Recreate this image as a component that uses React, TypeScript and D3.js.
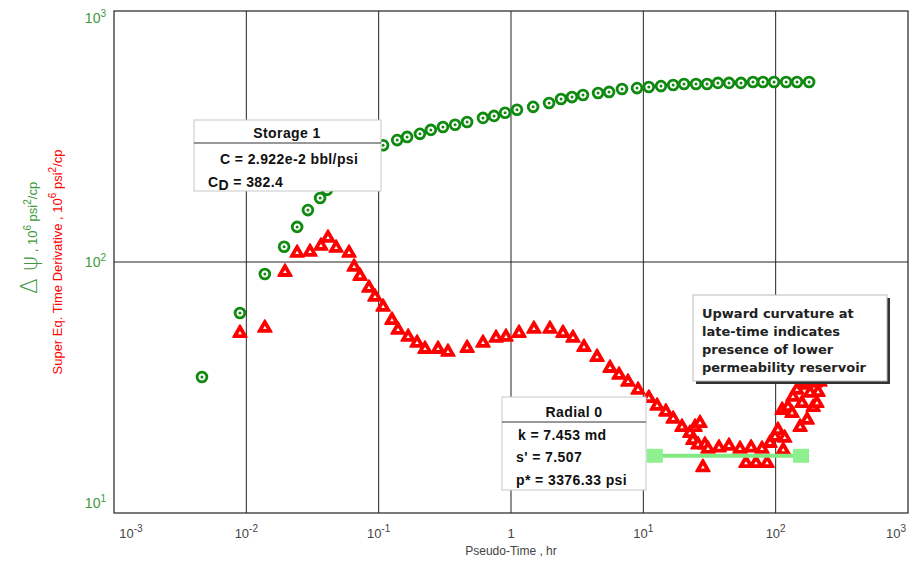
import React from 'react';
import * as d3 from 'd3';

// pressure change (green) : pseudo-time hr, 10^6 psi2/cp
const deltaTime = [
  0.00462, 0.00895, 0.0138, 0.0193, 0.0242, 0.0292, 0.0361, 0.0407, 0.0493, 0.0597,
  0.0723, 0.0875, 0.108, 0.138, 0.164, 0.205, 0.248, 0.306, 0.378, 0.466, 0.614,
  0.745, 0.902, 1.11, 1.47, 1.94, 2.39, 2.89, 3.5, 4.55, 5.51, 6.9, 8.96, 11.0,
  13.6, 16.8, 20.3, 25.0, 30.3, 36.6, 44.4, 54.7, 67.4, 80.2, 97.2, 120, 145, 179,
];
const deltaPsi = [
  34.8, 62.6, 89.6, 115, 138, 161, 180, 194, 210, 228, 248, 269, 292, 306, 315,
  324, 336, 345, 352, 361, 375, 382, 393, 404, 415, 430, 446, 454, 463, 471, 476,
  489, 493, 498, 502, 507, 512, 512, 512, 517, 517, 517, 521, 521, 521, 521, 521, 521,
];

// derivative (red)
const derivTime = [
  0.00895, 0.0138, 0.0196, 0.0242, 0.0303, 0.0366, 0.0414, 0.0477, 0.0597, 0.0652,
  0.0723, 0.0845, 0.0938, 0.108, 0.126, 0.14, 0.167, 0.195, 0.224, 0.281, 0.334,
  0.466, 0.614, 0.771, 0.916, 1.15, 1.49, 1.97, 2.47, 2.94, 3.56, 4.47, 5.6, 6.55,
  7.66, 9.12, 11.0, 12.7, 14.8, 16.8, 19.6, 22.5, 24.6, 26.8, 23.7, 25.9, 29.2,
  28.2, 30.8, 37.3, 44.4, 53.8, 59.7, 65.2, 71.0, 78.8, 86.1, 90.6, 98.9, 104, 114,
  117, 112, 124, 133, 135, 145, 153, 158, 167, 173, 182, 192, 198, 209, 205, 161,
  182, 216,
];
const derivValue = [
  52.1, 54.6, 91.2, 108.6, 109.6, 115.8, 124.7, 113.7, 108.6, 95.5, 87.9, 78.8,
  72.6, 66.2, 58.7, 53.6, 50.3, 47.6, 45.0, 45.0, 43.8, 45.4, 47.6, 49.8, 50.3,
  52.1, 54.1, 54.1, 52.1, 49.8, 45.8, 41.8, 37.8, 35.5, 33.3, 30.9, 28.7, 26.7,
  25.3, 23.7, 22.0, 20.8, 22.0, 22.8, 19.5, 18.7, 18.7, 15.2, 18.0, 18.2, 18.5,
  18.0, 15.8, 18.2, 15.8, 18.0, 15.8, 19.0, 20.1, 21.4, 17.8, 19.9, 25.7, 26.4,
  25.0, 29.0, 30.9, 22.0, 27.4, 32.4, 23.5, 30.1, 26.4, 33.0, 30.3, 27.4, 33.3,
  34.5, 33.3,
];

// radial flow line
const radialTime = [12.2, 155.6];
const radialValue = [16.9, 16.9];

const xTicks = [-3, -2, -1, 0, 1, 2, 3];
const yTicks = [1, 2, 3];

const storageLines = ['Storage 1', 'C = 2.922e-2 bbl/psi', 'CD = 382.4'];
const radialLines = ['Radial 0', 'k = 7.453 md', "s' = 7.507", 'p* = 3376.33 psi'];
const noteLines = [
  'Upward curvature at',
  'late-time indicates',
  'presence of lower',
  'permeability reservoir',
];

const GREEN = '#108a10';
const LABEL_GREEN = '#3d9a3d';
const RED = '#ff0000';

export default function App() {
  const x = d3.scaleLog().domain([1e-3, 1e3]).range([114, 908]);
  const y = d3.scaleLog().domain([10, 1000]).range([513, 11]);
  const tri = d3.symbol().type(d3.symbolTriangle).size(85)();
  const triIn = d3.symbol().type(d3.symbolTriangle).size(6)();
  const rline = d3
    .line<number>()
    .x((_, i) => x(radialTime[i]))
    .y((_, i) => y(radialValue[i]));

  const bold = {
    fontFamily: 'Liberation Sans, Arial, sans-serif',
    fontWeight: 700,
    fontSize: 14,
    letterSpacing: 0.4,
    fill: '#111',
  };

  return (
    <svg width={910} height={562} style={{ position: 'absolute', left: 0, top: 0, background: '#fff' }}>
      <rect x={0} y={0} width={910} height={562} fill="#fff" />

      {/* grid */}
      {xTicks.slice(1, -1).map((e) => (
        <line key={'gx' + e} x1={x(10 ** e)} x2={x(10 ** e)} y1={11} y2={513} stroke="#222" strokeWidth={1} />
      ))}
      <line x1={114} x2={908} y1={y(100)} y2={y(100)} stroke="#222" strokeWidth={1} />
      <rect x={114} y={11} width={794} height={502} fill="none" stroke="#222" strokeWidth={1.2} />

      {/* x tick labels */}
      <g style={{ fontFamily: 'Liberation Sans, Arial, sans-serif' }} fill="#444">
        {xTicks.map((e, i) => {
          const px = x(10 ** e) + (i === 0 ? 17 : i === xTicks.length - 1 ? -12 : 0);
          if (e === 0)
            return (
              <text key={'xl' + e} x={px} y={538} fontSize={13} textAnchor="middle">1</text>
            );
          return (
            <text key={'xl' + e} x={px} y={538} fontSize={13} textAnchor="middle">
              10<tspan dy={-6} fontSize={10}>{e}</tspan>
            </text>
          );
        })}
        <text x={511} y={555} fontSize={12} textAnchor="middle">Pseudo-Time , hr</text>
      </g>

      {/* y tick labels */}
      <g style={{ fontFamily: 'Liberation Sans, Arial, sans-serif' }} fill={LABEL_GREEN}>
        {yTicks.map((e, i) => {
          const py = y(10 ** e) + (i === 0 ? -5 : i === yTicks.length - 1 ? 12 : 5);
          return (
            <text key={'yl' + e} x={106} y={py} fontSize={14} textAnchor="end">
              10<tspan dy={-6} fontSize={10}>{e}</tspan>
            </text>
          );
        })}
      </g>

      {/* y titles */}
      <text
        transform="translate(37,238) rotate(-90)"
        textAnchor="middle"
        fill={LABEL_GREEN}
        style={{ fontFamily: 'Liberation Sans, Arial, sans-serif' }}
        fontSize={13}
      >
        <tspan fontSize={23} fontWeight={200} style={{ fontFamily: 'DejaVu Sans' }}>Δ ψ</tspan>
        <tspan>  , 10</tspan>
        <tspan dy={-6} fontSize={10}>6</tspan>
        <tspan dy={6}> psi</tspan>
        <tspan dy={-6} fontSize={10}>2</tspan>
        <tspan dy={6}>/cp</tspan>
      </text>
      <text
        transform="translate(62,262) rotate(-90)"
        textAnchor="middle"
        fill={RED}
        style={{ fontFamily: 'Liberation Sans, Arial, sans-serif' }}
        fontSize={13}
      >
        Super Eq. Time Derivative , 10
        <tspan dy={-6} fontSize={10}>6</tspan>
        <tspan dy={6}> psi</tspan>
        <tspan dy={-6} fontSize={10}>2</tspan>
        <tspan dy={6}>/cp</tspan>
      </text>

      {/* green circles */}
      {deltaTime.map((t, i) => (
        <g key={'g' + i} transform={`translate(${x(t)},${y(deltaPsi[i])})`}>
          <circle r={4.9} fill="#fff" stroke={GREEN} strokeWidth={2.8} />
          <circle r={1.5} fill={GREEN} />
        </g>
      ))}

      {/* red triangles */}
      {derivTime.map((t, i) => (
        <g key={'r' + i} transform={`translate(${x(t)},${y(derivValue[i])})`}>
          <path d={tri} fill={RED} stroke={RED} strokeWidth={1.6} strokeLinejoin="round" />
          <path d={triIn} fill="#fff" />
        </g>
      ))}

      {/* radial line */}
      <path d={rline(radialTime) || ''} stroke="#80ea80" strokeWidth={4} fill="none" />
      {radialTime.map((t, i) => (
        <rect key={'sq' + i} x={x(t) - 8} y={y(radialValue[i]) - 7} width={16} height={14} fill="#8ff08f" />
      ))}

      {/* storage box */}
      <g>
        <rect x={194} y={120} width={187} height={71} fill="#fff" stroke="#c8c8c8" strokeWidth={1} />
        <line x1={194} x2={381} y1={143} y2={143} stroke="#333" strokeWidth={1} />
        <text x={287} y={138} textAnchor="middle" style={bold}>{storageLines[0]}</text>
        <text x={220} y={164} style={bold}>{storageLines[1]}</text>
        <text x={208} y={187} style={bold}>
          C<tspan dy={3}>D</tspan>
          <tspan dy={-3}>{storageLines[2].slice(2)}</tspan>
        </text>
      </g>

      {/* radial box */}
      <g>
        <rect x={502} y={397} width={144} height={93} fill="#fff" stroke="#c8c8c8" strokeWidth={1} />
        <line x1={502} x2={646} y1={422} y2={422} stroke="#333" strokeWidth={1} />
        <text x={574} y={417} textAnchor="middle" style={bold}>{radialLines[0]}</text>
        <text x={518} y={440} style={bold}>{radialLines[1]}</text>
        <text x={516} y={462} style={bold}>{radialLines[2]}</text>
        <text x={516} y={485} style={bold}>{radialLines[3]}</text>
      </g>

      {/* note box */}
      <g>
        <rect x={696} y={298} width={194} height={86} fill="#333" />
        <rect x={693} y={295} width={194} height={86} fill="#fff" stroke="#bbb" strokeWidth={1} />
        {noteLines.map((s, i) => (
          <text
            key={'n' + i}
            x={702}
            y={318 + i * 18}
            style={{ fontFamily: 'DejaVu Sans, Verdana, sans-serif', fontWeight: 700, fontSize: 13, fill: '#222' }}
          >
            {s}
          </text>
        ))}
      </g>
    </svg>
  );
}
